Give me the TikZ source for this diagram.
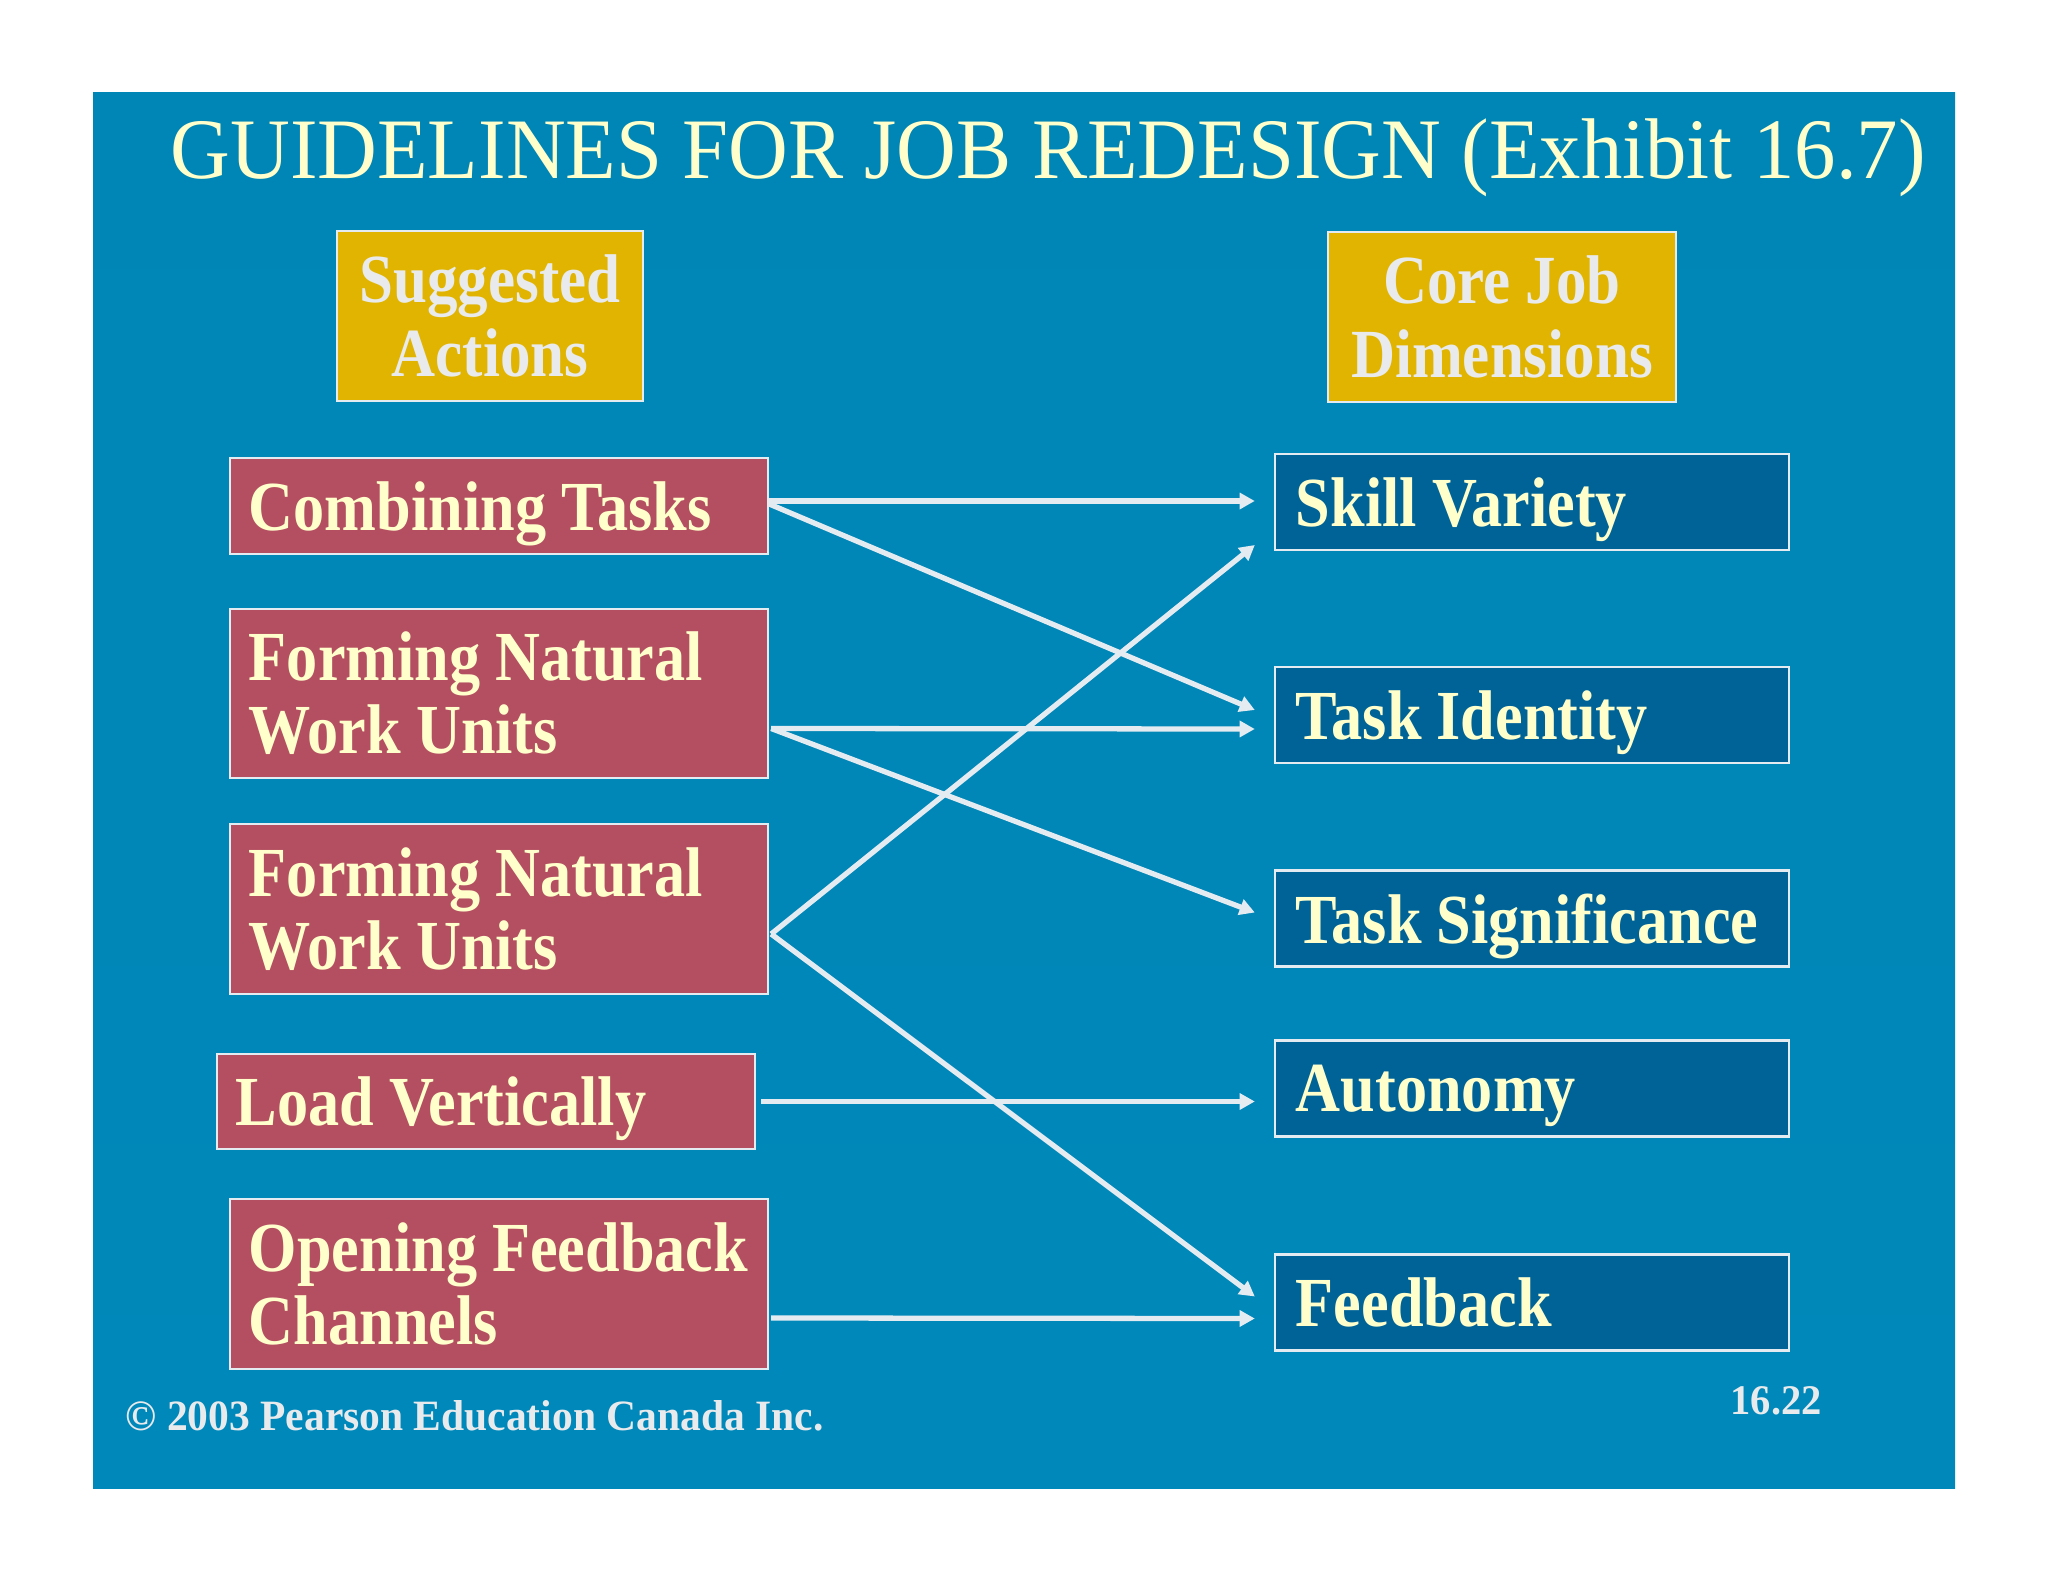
\documentclass[tikz,border=0pt]{standalone}
\usepackage{fontspec}
\setmainfont{Liberation Serif}
\newfontfamily\boxfont[FakeStretch=0.885]{Liberation Serif}
\newfontfamily\notefont[FakeStretch=0.96]{Liberation Serif}
\usetikzlibrary{shapes}
\usetikzlibrary{arrows.meta}
\usetikzlibrary{calc}

\definecolor{slidetop}{HTML}{0086B6}
\definecolor{slidemid}{HTML}{0099CC}
\definecolor{slidebot}{HTML}{0088BA}
\definecolor{headgold}{HTML}{E0B400}
\definecolor{actionred}{HTML}{B44F62}
\definecolor{dimblue}{HTML}{006398}
\definecolor{cream}{HTML}{FFFFCC}
\definecolor{pale}{HTML}{E8EAEC}
\definecolor{boxline}{HTML}{E4ECF2}

\begin{document}
\begin{tikzpicture}[x=0.01cm,y=-0.01cm,
	header/.style={rectangle,draw=boxline,line width=0.6pt,fill=headgold,text=pale,align=center,
		font=\boxfont\fontsize{19.6}{21}\bfseries\selectfont,minimum height=1.70cm,inner sep=0pt},
	action/.style={rectangle,draw=boxline,line width=0.6pt,fill=actionred,text=cream,align=left,
		font=\boxfont\fontsize{20}{20.8}\bfseries\selectfont,
		execute at begin node={\hyphenpenalty=10000\spaceskip=4.3pt plus 1pt\relax},
		text width=5.0cm,inner xsep=0.19cm,inner ysep=0pt},
	dimension/.style={rectangle,draw=boxline,line width=0.6pt,fill=dimblue,text=cream,align=left,
		font=\boxfont\fontsize{20}{20.8}\bfseries\selectfont,
		execute at begin node={\hyphenpenalty=10000\spaceskip=4.3pt plus 1pt\relax},
		text width=4.72cm,text depth=0pt,inner xsep=0.21cm,inner ysep=0pt,minimum height=0.96cm},
	link/.style={draw=boxline,line width=1.5pt,-{Triangle[length=4.3pt,width=4.5pt]}}
	]
	\useasboundingbox (0,0) rectangle (2048,1582);
	\fill[white] (0,0) rectangle (2048,1582);
	\shade[top color=slidetop,middle color=slidemid,bottom color=slidebot] (93,93) rectangle (1955,1488);

	\node[anchor=base west,inner sep=0pt,text=cream,font=\notefont\fontsize{24.5}{28}\selectfont] (title) at (170,179)
		{GUIDELINES FOR JOB REDESIGN (Exhibit 16.7)};

	% column heads
	\node[header,minimum width=3.06cm] (sa) at (490,316) {Suggested\\Actions};
	\node[header,minimum width=3.48cm] (cj) at (1502,317) {Core Job\\Dimensions};

	% suggested actions
	\node[action,text depth=0pt,minimum height=0.96cm] (ct) at (499,506) {Combining Tasks};
	\node[action,minimum height=1.69cm] (fn1) at (499,693.5) {Forming Natural\\Work Units};
	\node[action,minimum height=1.70cm] (fn2) at (499,909) {Forming Natural\\Work Units};
	\node[action,text depth=0pt,minimum height=0.95cm] (lv) at (486,1101.5) {Load Vertically};
	\node[action,minimum height=1.70cm] (of) at (499,1284) {Opening Feedback\\Channels};

	% core job dimensions
	\node[dimension] (sv) at (1532,502) {Skill Variety};
	\node[dimension] (ti) at (1532,715) {Task Identity};
	\node[dimension] (ts) at (1532,918.5) {Task Significance};
	\node[dimension] (au) at (1532,1088.5) {Autonomy};
	\node[dimension] (fb) at (1532,1302.5) {Feedback};

	% links
	\draw[link] ($(ct.east)+(0,-5)$) -- ($(sv.west)+(-19,-1)$);
	\draw[link] ($(ct.east)+(0,-2)$) -- ($(ti.west)+(-19,-5)$);
	\draw[link] ($(fn1.east)+(2,35)$) -- ($(ti.west)+(-19,14)$);
	\draw[link] ($(fn1.east)+(2,35)$) -- ($(ts.west)+(-19,-6)$);
	\draw[link] ($(fn2.east)+(2,25)$) -- ($(sv.west)+(-19,43)$);
	\draw[link] ($(fn2.east)+(2,25)$) -- ($(fb.west)+(-19,-6)$);
	\draw[link] ($(lv.east)+(5,0)$) -- ($(au.west)+(-19,13)$);
	\draw[link] ($(of.east)+(2,34)$) -- ($(fb.west)+(-19,16)$);

	\node[anchor=base west,inner sep=0pt,text=pale,font=\notefont\fontsize{12.3}{14}\bfseries\selectfont] (copy) at (125,1430)
		{\textcopyright{} 2003 Pearson Education Canada Inc.};
	\node[anchor=base west,inner sep=0pt,text=pale,font=\notefont\fontsize{12}{14}\bfseries\selectfont] (page) at (1730,1414) {16.22};
\end{tikzpicture}
\end{document}
